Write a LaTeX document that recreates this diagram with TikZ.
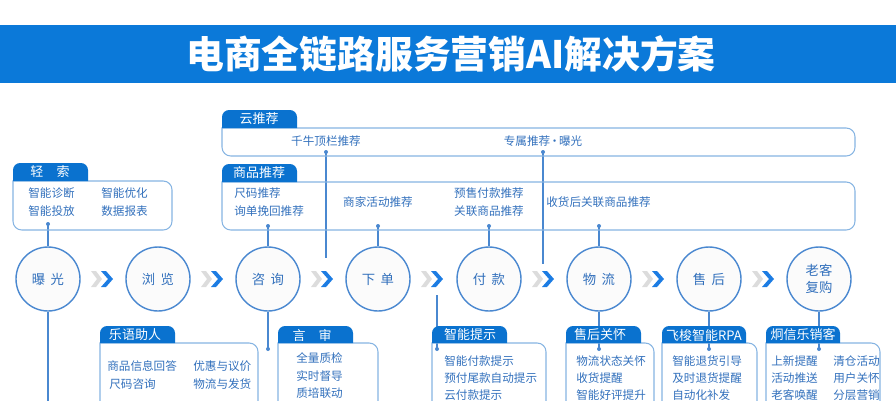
\documentclass[tikz,border=0pt]{standalone}
\usepackage{fontspec}
\setmainfont{Noto Sans CJK SC}
\usetikzlibrary{positioning}

\definecolor{barblue}{HTML}{0B79D9}
\definecolor{tabblue}{HTML}{0A72CF}
\definecolor{lineblue}{HTML}{4A88D0}
\definecolor{textblue}{HTML}{3270BC}
\definecolor{boxline}{HTML}{86B4E2}
\definecolor{chevgray}{HTML}{DCDCDC}
\definecolor{chevblue}{HTML}{1C7CE3}

\begin{document}
\begin{tikzpicture}[x=0.02cm,y=-0.02cm,
	stage/.style={circle,draw=lineblue,line width=0.8pt,fill=gray!3,minimum size=1.28cm,inner sep=0,
		text=textblue,font=\fontsize{7.6}{9.5}\selectfont,align=center},
	tabtext/.style={text=white,font=\fontsize{7.4}{9}\selectfont,inner sep=0},
	item/.style={text=textblue,font=\fontsize{6.6}{8}\selectfont,inner sep=0,anchor=west},
	midtext/.style={text=textblue,font=\fontsize{6.6}{8}\selectfont,inner sep=0},
	link/.style={draw=lineblue,line width=0.6pt},
	frame/.style={draw=boxline,line width=0.6pt},
	dot/.style={fill=lineblue}]
	\useasboundingbox (0,0) rectangle (896,400);
	\clip (0,0) rectangle (896,400);

	%Title bar
	\fill [barblue] (0,25) rectangle (896,83);
	\node (title) at (451,54) [text=white,font=\fontsize{21.5}{24}\selectfont\bfseries] {电商全链路服务营销AI解决方案};

	%Stages
	\node [stage] (expo) at (48,279) {曝\hspace{0.4em}光};
	\node [stage] (browse) at (158,279) {浏\hspace{0.4em}览};
	\node [stage] (consult) at (268,279) {咨\hspace{0.4em}询};
	\node [stage] (order) at (378,279) {下\hspace{0.4em}单};
	\node [stage] (pay) at (489,279) {付\hspace{0.4em}款};
	\node [stage] (ship) at (599,279) {物\hspace{0.4em}流};
	\node [stage] (after) at (709,279) {售\hspace{0.4em}后};
	\node [stage] (back) at (819,279) {老客\\复购};

	%Chevrons between stages
	\foreach \m in {103,213,323,433,544,654,764} {
		\fill [chevgray] (\m-12,271) -- (\m-7,271) -- (\m-1,279) -- (\m-7,287) -- (\m-12,287) -- (\m-6,279) -- cycle;
		\fill [chevblue] (\m-2,271) -- (\m+3,271) -- (\m+10,279) -- (\m+3,287) -- (\m-2,287) -- (\m+5,279) -- cycle;
	}

	%Dots and free ends
	\coordinate (qsdot) at (48,224);
	\coordinate (cloudA) at (326,152);
	\coordinate (cloudB) at (543,152);
	\coordinate (cloudAend) at (326,258);
	\coordinate (cloudBend) at (543,264);
	\coordinate (recA) at (268,226);
	\coordinate (recB) at (378,226);
	\coordinate (recC) at (489,226);
	\coordinate (recD) at (599,226);
	\coordinate (expoend) at (48,405);
	\coordinate (ysdot) at (268,349);
	\coordinate (tipstart) at (437,295);
	\coordinate (tipdot) at (437,349);
	\coordinate (caredot) at (599,349);
	\coordinate (rpadot) at (709,349);
	\coordinate (mktdot) at (819,349);

	%Connectors
	\draw [link] (qsdot) -- (expo.north);
	\draw [link] (cloudA) -- (cloudAend);
	\draw [link] (cloudB) -- (cloudBend);
	\draw [link] (recA) -- (consult.north);
	\draw [link] (recB) -- (order.north);
	\draw [link] (recC) -- (pay.north);
	\draw [link] (recD) -- (ship.north);
	\draw [link] (expo.south) -- (expoend);
	\draw [link] (consult.south) -- (ysdot);
	\draw [link] (tipstart) -- (tipdot);
	\draw [link] (ship.south) -- (caredot);
	\draw [link] (after.south) -- (rpadot);
	\draw [link] (back.south) -- (mktdot);

	%Box 轻索
	\draw [frame] (13,181) {[rounded corners=5] -- (172,181) -- (172,230) -- (13,230)} -- cycle;
	\fill [tabblue] (13,181) {[rounded corners=4] -- (13,163) -- (88,163)} -- (88,181) -- cycle;
	\node [tabtext] (qstab) at (50,172) {轻\hspace{1em}索};
	\node [item] (qs1) at (28,193) {智能诊断};
	\node [item] (qs2) at (28,211) {智能投放};
	\node [item] (qs3) at (101,193) {智能优化};
	\node [item] (qs4) at (101,211) {数据报表};

	%Box 云推荐
	\draw [frame] (222,128) {[rounded corners=5] -- (855,128) -- (855,156) -- (222,156)} -- cycle;
	\fill [tabblue] (222,128) {[rounded corners=4] -- (222,110) -- (297,110)} -- (297,128) -- cycle;
	\node [tabtext] (cloudtab) at (259,119) {云推荐};
	\node [midtext] (cloud1) at (326,141) {千牛顶栏推荐};
	\node [midtext] (cloud2) at (543,141) {专属推荐\kern-0.12em·\kern-0.12em曝光};

	%Box 商品推荐
	\draw [frame] (222,182) {[rounded corners=5] -- (855,182) -- (855,230) -- (222,230)} -- cycle;
	\fill [tabblue] (222,182) {[rounded corners=4] -- (222,164) -- (297,164)} -- (297,182) -- cycle;
	\node [tabtext] (rectab) at (259,173) {商品推荐};
	\node [item] (rec1) at (234,193) {尺码推荐};
	\node [item] (rec2) at (234,211) {询单挽回推荐};
	\node [midtext] (rec3) at (378,202) {商家活动推荐};
	\node [midtext] (rec4) at (489,193) {预售付款推荐};
	\node [midtext] (rec5) at (489,211) {关联商品推荐};
	\node [item] (rec6) at (546,202) {收货后关联商品推荐};

	%Box 乐语助人
	\draw [frame] (100,343) {[rounded corners=5] -- (258,343) -- (258,420) -- (100,420)} -- cycle;
	\fill [tabblue] (100,343) {[rounded corners=4] -- (100,326) -- (175,326)} -- (175,343) -- cycle;
	\node [tabtext] (lytab) at (135,335) {乐语助人};
	\node [item] (ly1) at (107,366) {商品信息回答};
	\node [item] (ly2) at (109,384) {尺码咨询};
	\node [item] (ly3) at (193,366) {优惠与议价};
	\node [item] (ly4) at (193,384) {物流与发货};

	%Box 言审
	\draw [frame] (278,343) {[rounded corners=5] -- (378,343) -- (378,420) -- (278,420)} -- cycle;
	\fill [tabblue] (278,343) {[rounded corners=4] -- (278,326) -- (353,326)} -- (353,343) -- cycle;
	\node [tabtext] (ystab) at (312,335) {言\hspace{1em}审};
	\node [item] (ys1) at (296,358) {全量质检};
	\node [item] (ys2) at (296,376) {实时督导};
	\node [item] (ys3) at (296,393) {质培联动};

	%Box 智能提示
	\draw [frame] (432,343) {[rounded corners=5] -- (546,343) -- (546,420) -- (432,420)} -- cycle;
	\fill [tabblue] (432,343) {[rounded corners=4] -- (432,326) -- (507,326)} -- (507,343) -- cycle;
	\node [tabtext] (tiptab) at (470,335) {智能提示};
	\node [item] (tip1) at (444,361) {智能付款提示};
	\node [item] (tip2) at (444,378) {预付尾款自动提示};
	\node [item] (tip3) at (444,395) {云付款提示};

	%Box 售后关怀
	\draw [frame] (566,343) {[rounded corners=5] -- (654,343) -- (654,420) -- (566,420)} -- cycle;
	\fill [tabblue] (566,343) {[rounded corners=4] -- (566,326) -- (641,326)} -- (641,343) -- cycle;
	\node [tabtext] (caretab) at (600,335) {售后关怀};
	\node [item] (care1) at (576,361) {物流状态关怀};
	\node [item] (care2) at (576,378) {收货提醒};
	\node [item] (care3) at (576,395) {智能好评提升};

	%Box 飞梭智能RPA
	\draw [frame] (662,343) {[rounded corners=5] -- (757,343) -- (757,420) -- (662,420)} -- cycle;
	\fill [tabblue] (662,343) {[rounded corners=4] -- (662,326) -- (746,326)} -- (746,343) -- cycle;
	\node [tabtext] (rpatab) at (704,335) {飞梭智能RPA};
	\node [item] (rpa1) at (672,361) {智能退货引导};
	\node [item] (rpa2) at (672,378) {及时退货提醒};
	\node [item] (rpa3) at (672,395) {自动化补发};

	%Box 炯信乐销客
	\draw [frame] (766,343) {[rounded corners=5] -- (880,343) -- (880,420) -- (766,420)} -- cycle;
	\fill [tabblue] (766,343) {[rounded corners=4] -- (766,326) -- (840,326)} -- (840,343) -- cycle;
	\node [tabtext] (mkttab) at (803,335) {炯信乐销客};
	\node [item] (mkt1) at (771,361) {上新提醒};
	\node [item] (mkt2) at (771,378) {活动推送};
	\node [item] (mkt3) at (771,395) {老客唤醒};
	\node [item] (mkt4) at (833,361) {清仓活动};
	\node [item] (mkt5) at (833,378) {用户关怀};
	\node [item] (mkt6) at (833,395) {分层营销};

	%Dots on top
	\foreach \d in {qsdot,cloudA,cloudB,recA,recB,recC,recD,ysdot,tipdot,caredot,rpadot,mktdot}
		\fill [dot] (\d) circle [radius=2];
\end{tikzpicture}
\end{document}
